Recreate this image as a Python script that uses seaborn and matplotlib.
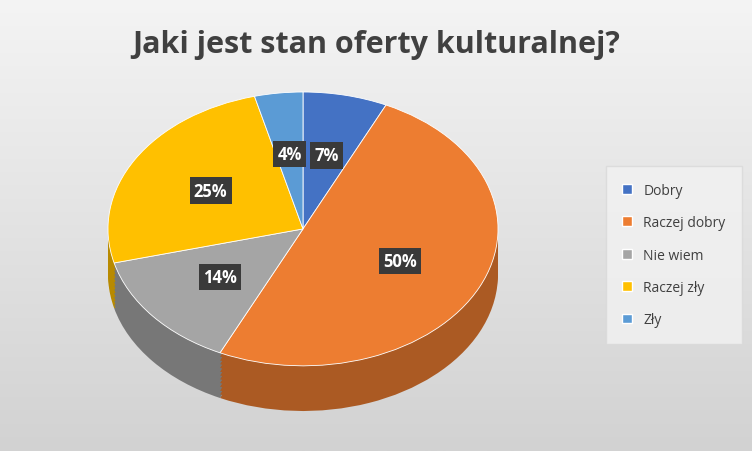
import matplotlib
matplotlib.use("Agg")
import matplotlib.pyplot as plt
import numpy as np
import seaborn as sns
from matplotlib.patches import Patch

categories = ["Dobry", "Raczej dobry", "Nie wiem", "Raczej zły", "Zły"]
values = [7, 50, 14, 25, 4]
colors = ["#4472C4", "#ED7D31", "#A5A5A5", "#FFC000", "#5B9BD5"]

sns.set_theme(style="white")
plt.rcParams['font.family'] = ['Open Sans', 'DejaVu Sans']

fig = plt.figure(figsize=(7.52, 4.52), dpi=100)
bg = fig.add_axes([0, 0, 1, 1])
grad = np.linspace(0, 1, 256)[:, None]
bg.imshow(grad, cmap=matplotlib.colors.LinearSegmentedColormap.from_list("g", ["#F4F4F4", "#D2D2D2"]),
          aspect="auto", extent=[0, 1, 0, 1])
bg.axis("off")

ax = fig.add_axes([108/752, 40/452, 390/752, 319/452])
d = 0.33
dark = [tuple(c*0.72 for c in matplotlib.colors.to_rgb(col)) for col in colors]
n = 12
for i in range(n, 0, -1):
    ax.pie(values, colors=dark, startangle=90, counterclock=False, center=(0, -d*i/n),
           radius=1, frame=True, wedgeprops=dict(linewidth=0))
ax.pie(values, colors=colors, startangle=90, counterclock=False, center=(0, 0), radius=1,
       frame=True, autopct=lambda p: f"{p:.0f}%", pctdistance=0.55,
       wedgeprops=dict(linewidth=0.6, edgecolor="white"),
       textprops=dict(color="white", fontweight="bold", fontsize=12,
                      bbox=dict(boxstyle="square,pad=0.25", facecolor="#3A3A3A", edgecolor="none")))
ax.set_aspect("auto")
ax.set_xlim(-1, 1)
ax.set_ylim(-1 - d, 1)
ax.axis("off")

fig.text(0.5, 0.9, "Jaki jest stan oferty kulturalnej?", ha="center", va="center",
         fontsize=22, fontweight="bold", color="#404040")

handles = [Patch(facecolor=c, label=l) for c, l in zip(colors, categories)]
leg = fig.legend(handles=handles, loc="center left", bbox_to_anchor=(603/752, 1-256/452),
                 frameon=True, fontsize=10, handlelength=0.7, handleheight=0.7,
                 labelspacing=1.25, borderpad=0.9, labelcolor="#404040")
leg.get_frame().set_facecolor("#F2F2F2")
leg.get_frame().set_edgecolor("#D9D9D9")
leg.get_frame().set_boxstyle("square")

fig.savefig("out.png", dpi=100)
